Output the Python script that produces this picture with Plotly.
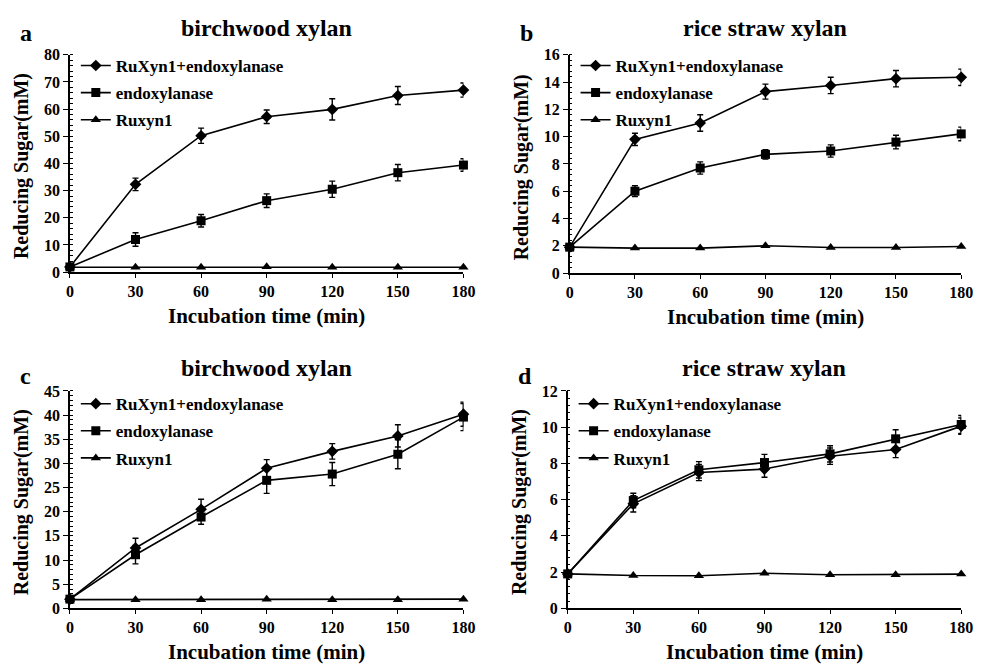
import plotly.graph_objects as go

time = [0, 30, 60, 90, 120, 150, 180]
series_names = ["RuXyn1+endoxylanase", "endoxylanase", "Ruxyn1"]

# Panel a: birchwood xylan
a_combo = [1.9, 32.3, 50.2, 57.2, 59.9, 65.0, 67.0]
a_combo_err = [0.5, 2.3, 2.8, 2.5, 3.9, 3.3, 2.6]
a_endo = [1.9, 12.0, 18.9, 26.3, 30.5, 36.6, 39.4]
a_endo_err = [0.5, 2.5, 2.3, 2.5, 3.0, 3.0, 2.3]
a_rux = [1.8, 1.8, 1.8, 2.0, 1.8, 1.8, 1.8]

# Panel b: rice straw xylan
b_combo = [1.9, 9.8, 11.0, 13.3, 13.75, 14.25, 14.35]
b_combo_err = [0.1, 0.45, 0.6, 0.55, 0.6, 0.6, 0.6]
b_endo = [1.9, 6.0, 7.7, 8.7, 8.95, 9.6, 10.2]
b_endo_err = [0.1, 0.4, 0.45, 0.35, 0.45, 0.5, 0.5]
b_rux = [1.9, 1.83, 1.83, 2.0, 1.88, 1.88, 1.95]

# Panel c: birchwood xylan
c_combo = [1.9, 12.5, 20.5, 29.0, 32.5, 35.7, 40.2]
c_combo_err = [0.3, 2.0, 2.1, 1.8, 1.6, 2.3, 2.5]
c_endo = [1.9, 11.1, 18.9, 26.5, 27.8, 31.9, 39.6]
c_endo_err = [0.3, 1.9, 1.5, 2.7, 2.4, 3.0, 2.8]
c_rux = [1.8, 1.8, 1.8, 1.9, 1.8, 1.8, 1.9]

# Panel d: rice straw xylan
d_combo = [1.9, 5.77, 7.5, 7.69, 8.4, 8.77, 10.06]
d_combo_err = [0.1, 0.45, 0.45, 0.45, 0.45, 0.45, 0.45]
d_endo = [1.9, 5.95, 7.65, 8.05, 8.53, 9.36, 10.15]
d_endo_err = [0.1, 0.4, 0.45, 0.45, 0.45, 0.5, 0.5]
d_rux = [1.9, 1.81, 1.8, 1.94, 1.85, 1.85, 1.89]

panel_letters = ["a", "b", "c", "d"]
panel_titles = ["birchwood xylan", "rice straw xylan", "birchwood xylan", "rice straw xylan"]
y_max = [80, 16, 45, 12]
y_step = [10, 2, 5, 2]
x_title = "Incubation time (min)"
y_title = "Reducing Sugar(mM)"

W, H = 987, 668
FONT = "Liberation Serif"

# plot area pixel boxes (left, right, top, bottom)
boxes = [(67, 467, 48, 271), (575, 973, 48, 272), (67, 467, 393, 616), (573, 973, 393, 616)]
# text offsets above plot top: title, letter, legend
title_off = [27, 27, 24, 24]
letter_off = [22, 22, 15, 15]
legend_off = [-7, -7, -5, -5]

panels = [
    (a_combo, a_combo_err, a_endo, a_endo_err, a_rux),
    (b_combo, b_combo_err, b_endo, b_endo_err, b_rux),
    (c_combo, c_combo_err, c_endo, c_endo_err, c_rux),
    (d_combo, d_combo_err, d_endo, d_endo_err, d_rux),
]
symbols = ["diamond", "square", "triangle-up"]
msizes = [9, 9, 9]

fig = go.Figure()
layout = dict(
    width=W, height=H, margin=dict(l=0, r=0, t=0, b=0),
    paper_bgcolor="white", plot_bgcolor="white",
    font=dict(family=FONT, color="black", size=14, weight="bold"),
    annotations=[],
)

for i, (combo, combo_err, endo, endo_err, rux) in enumerate(panels):
    k = i + 1
    xa = "x" if k == 1 else f"x{k}"
    ya = "y" if k == 1 else f"y{k}"
    lg = "legend" if k == 1 else f"legend{k}"
    vals = [combo, endo, rux]
    errs = [combo_err, endo_err, None]
    for j in range(3):
        tr = go.Scatter(
            x=time, y=vals[j], name=series_names[j], xaxis=xa, yaxis=ya,
            mode="lines+markers",
            line=dict(color="black", width=1.6),
            marker=dict(symbol=symbols[j], size=msizes[j], color="black"),
            legend=lg, legendgroup=f"g{k}{j}", cliponaxis=False,
        )
        if errs[j] is not None:
            tr.error_y = dict(type="data", array=errs[j], visible=True,
                              color="black", thickness=1.4, width=3)
        fig.add_trace(tr)

    l, r, t, b = boxes[i]
    xdom = [l / W, r / W]
    ydom = [1 - b / H, 1 - t / H]
    xkey = "xaxis" if k == 1 else f"xaxis{k}"
    ykey = "yaxis" if k == 1 else f"yaxis{k}"
    layout[xkey] = dict(
        domain=xdom, anchor=ya, range=[0, 180], tickvals=time,
        showgrid=False, zeroline=False, showline=True, linecolor="black", linewidth=1.5,
        ticks="outside", ticklen=4, tickwidth=1.2, tickcolor="black",
        tickfont=dict(family=FONT, size=16, weight="bold"),
    )
    layout[ykey] = dict(
        domain=ydom, anchor=xa, range=[0, y_max[i]], dtick=y_step[i], tick0=0,
        showgrid=False, zeroline=False, showline=True, linecolor="black", linewidth=1.5,
        ticks="outside", ticklen=5, tickwidth=1.2, tickcolor="black",
        tickfont=dict(family=FONT, size=16, weight="bold"),
        minor=dict(ticks="inside", ticklen=3, tickwidth=1, tickcolor="black",
                   dtick=y_step[i] / 5, showgrid=False),
    )
    layout[lg] = dict(
        x=(l + 6) / W, y=1 - (t + legend_off[i]) / H, xanchor="left", yanchor="top",
        bgcolor="rgba(0,0,0,0)", borderwidth=0,
        font=dict(family=FONT, size=17, weight="bold", color="black"),
        tracegroupgap=2, itemwidth=30,
    )
    cx = (l + r) / 2
    layout["annotations"] += [
        dict(text=panel_titles[i], x=cx / W, y=1 - (t - title_off[i]) / H, xref="paper", yref="paper",
             showarrow=False, xanchor="center", yanchor="middle",
             font=dict(family=FONT, size=24, weight="bold")),
        dict(text=panel_letters[i], x=(l - 53) / W, y=1 - (t - letter_off[i]) / H, xref="paper", yref="paper",
             showarrow=False, xanchor="left", yanchor="middle",
             font=dict(family=FONT, size=24, weight="bold")),
        dict(text=x_title, x=cx / W, y=1 - (b + 45) / H, xref="paper", yref="paper",
             showarrow=False, xanchor="center", yanchor="middle",
             font=dict(family=FONT, size=21, weight="bold")),
        dict(text=y_title, x=(l - 49) / W, y=1 - ((t + b) / 2 + 3) / H, xref="paper", yref="paper",
             showarrow=False, xanchor="center", yanchor="middle", textangle=-90,
             font=dict(family=FONT, size=20, weight="bold")),
    ]

fig.update_layout(**layout)
fig.write_html("out.html")
